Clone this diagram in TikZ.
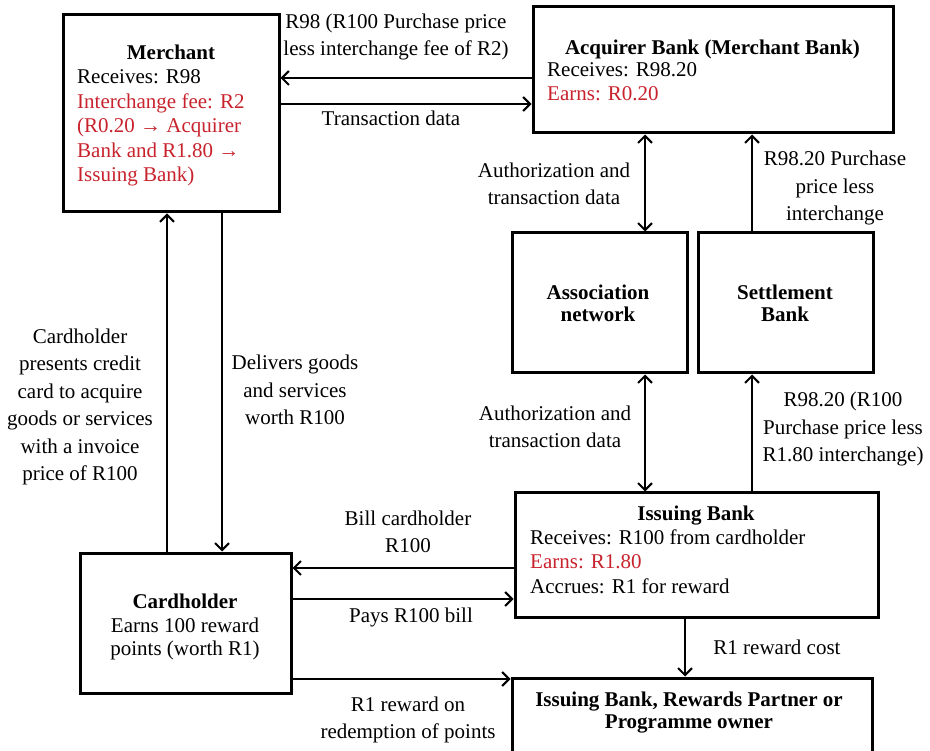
\documentclass[tikz,border=0pt]{standalone}
\usepackage{fontspec}
\setmainfont{Liberation Serif}
\usetikzlibrary{arrows.meta}
\definecolor{redtxt}{RGB}{200,35,45}
\tikzset{
  box/.style={draw, line width=3pt, inner sep=0pt},
  tip/.tip={Straight Barb[length=7pt,width=14pt,line width=2pt]},
  conn/.style={line width=2pt, -tip},
  conn2/.style={line width=2pt, tip-tip},
  lbl/.style={font=\fontsize{21}{27.5}\selectfont, align=center, inner sep=0pt},
  txt/.style={font=\fontsize{21}{24.5}\selectfont, inner sep=0pt, anchor=base west},
  ttl/.style={font=\fontsize{21}{24.5}\selectfont\bfseries, inner sep=0pt, anchor=base},
}
\begin{document}
\begin{tikzpicture}[x=1pt,y=-1pt]
\useasboundingbox (0,0) rectangle (930,751);
\fill[white] (0,0) rectangle (930,751);
% boxes
\node[box, minimum width=216pt, minimum height=197pt] (merchant) at (171,113.5) {};
\node[box, minimum width=360pt, minimum height=126pt] (acq) at (713,70) {};
\node[box, minimum width=175pt, minimum height=140pt] (assoc) at (599.5,303) {};
\node[box, minimum width=175pt, minimum height=140pt] (settle) at (785.5,303) {};
\node[box, minimum width=363pt, minimum height=124pt] (issuing) at (696.5,555) {};
\node[box, minimum width=211pt, minimum height=140pt] (card) at (185.5,623) {};
\node[box, minimum width=360pt, minimum height=92pt] (rewards) at (692,724) {};
% merchant text
\node[ttl] (mT) at (171,60) {Merchant};
\node[txt] (m1) at (77,84) {Receives: R98};
\node[txt, text=redtxt] (m2) at (77,109) {Interchange fee: R2};
\node[txt, text=redtxt] (m3) at (77,133) {(R0.20 → Acquirer};
\node[txt, text=redtxt] (m4) at (77,158) {Bank and R1.80 →};
\node[txt, text=redtxt] (m5) at (77,182) {Issuing Bank)};
% acquirer text
\node[ttl] (aT) at (712.5,55) {Acquirer Bank (Merchant Bank)};
\node[txt] (a1) at (547,77) {Receives: R98.20};
\node[txt, text=redtxt] (a2) at (547,101) {Earns: R0.20};
% association / settlement
\node[ttl] (asT1) at (598,300) {Association};
\node[ttl] (asT2) at (598,322) {network};
\node[ttl] (sT1) at (785,300) {Settlement};
\node[ttl] (sT2) at (785,322) {Bank};
% issuing text
\node[ttl] (iT) at (696,520) {Issuing Bank};
\node[txt] (i1) at (530,544) {Receives: R100 from cardholder};
\node[txt, text=redtxt] (i2) at (530,568) {Earns: R1.80};
\node[txt] (i3) at (530,593) {Accrues: R1 for reward};
% cardholder text
\node[ttl] (cT) at (185,608) {Cardholder};
\node[ttl, font=\fontsize{21}{24.5}\selectfont] (c1) at (185,632) {Earns 100 reward};
\node[ttl, font=\fontsize{21}{24.5}\selectfont] (c2) at (185,655) {points (worth R1)};
% rewards text
\node[ttl] (rT1) at (689,706) {Issuing Bank, Rewards Partner or};
\node[ttl] (rT2) at (689,728) {Programme owner};
% connectors
\draw[conn] ([yshift=-8pt]acq.west) -- ([yshift=-8pt]acq.west -| merchant.east);
\draw[conn] ([yshift=9.5pt]merchant.east) -- ([yshift=9.5pt]merchant.east -| acq.west);
\draw[conn2] ([xshift=45.5pt]assoc.north) -- ([xshift=45.5pt]assoc.north |- acq.south);
\draw[conn] ([xshift=-33.5pt]settle.north) -- ([xshift=-33.5pt]settle.north |- acq.south);
\draw[conn2] ([xshift=-51.5pt]issuing.north) -- ([xshift=-51.5pt]issuing.north |- assoc.south);
\draw[conn] ([xshift=55.5pt]issuing.north) -- ([xshift=55.5pt]issuing.north |- settle.south);
\draw[conn] ([xshift=-18.5pt]card.north) -- ([xshift=-18.5pt]card.north |- merchant.south);
\draw[conn] ([xshift=51pt]merchant.south) -- ([xshift=51pt]merchant.south |- card.north);
\draw[conn] ([yshift=-13pt]issuing.west) -- ([yshift=-13pt]issuing.west -| card.east);
\draw[conn] ([yshift=24pt]card.east) -- ([yshift=24pt]card.east -| issuing.west);
\draw[conn] ([xshift=-11.5pt]issuing.south) -- ([xshift=-11.5pt]issuing.south |- rewards.north);
\draw[conn] ([yshift=-56pt]card.east) -- ([yshift=-56pt]card.east -| rewards.west);
% labels
\node[lbl] (L1) at (396,37) {R98 (R100 Purchase price\\less interchange fee of R2)};
\node[lbl] (L2) at (391,118) {Transaction data};
\node[lbl] (L3) at (554,184) {Authorization and\\transaction data};
\node[lbl] (L4) at (835,188) {R98.20 Purchase\\price less\\interchange};
\node[lbl] (L5) at (555,427) {Authorization and\\transaction data};
\node[lbl] (L6) at (843,429) {R98.20 (R100\\Purchase price less\\R1.80 interchange)};
\node[lbl] (L7) at (80,407) {Cardholder\\presents credit\\card to acquire\\goods or services\\with a invoice\\price of R100};
\node[lbl] (L8) at (295,390) {Delivers goods\\and services\\worth R100};
\node[lbl] (L9) at (408,532) {Bill cardholder\\R100};
\node[lbl] (L10) at (411,617) {Pays R100 bill};
\node[lbl] (L11) at (777,647) {R1 reward cost};
\node[lbl] (L12) at (408,720) {R1 reward on\\redemption of points};
\end{tikzpicture}
\end{document}
